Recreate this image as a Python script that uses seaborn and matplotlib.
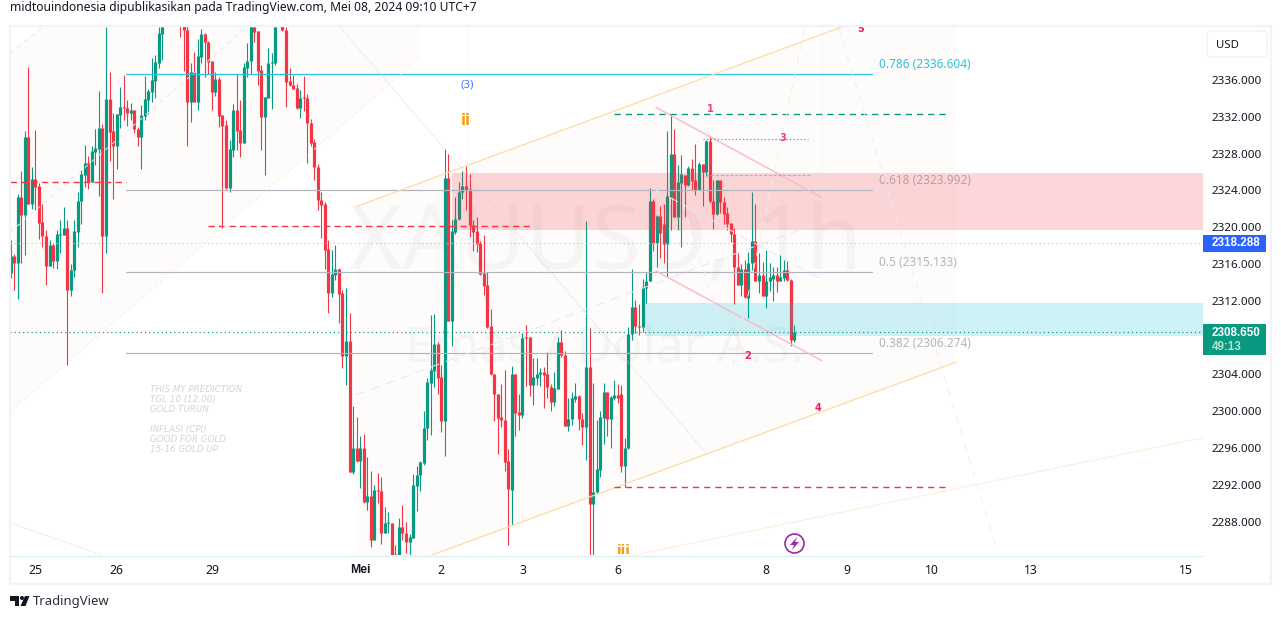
"""XAUUSD 1h TradingView snapshot with fib levels, channels and wave counts."""

import matplotlib.pyplot as plt
import pandas as pd
import seaborn as sns
from matplotlib.patches import Circle, FancyBboxPatch, Polygon, Rectangle

UP = "#089981"
DOWN = "#F23645"
GREY = "#B2B5BE"
CYAN = "#26C6DA"
ORANGE = "#FFDBA6"
PINK = "#F8BBD0"
INK = "#131722"
WAVE = "#EC407A"
FONT = ["Noto Sans", "DejaVu Sans"]
BOLD = ["Liberation Sans", "DejaVu Sans"]

highs = [
    2318.6, 2317.1, 2323.6, 2326.1, 2330.5, 2337.4, 2326.5, 2330.6, 2324.8, 2322.5,
    2319.7, 2318.6, 2318.3, 2319.7, 2320.8, 2322.2, 2320.8, 2316.0, 2320.8, 2323.8,
    2326.2, 2328.9, 2327.7, 2328.8, 2330.7, 2334.8, 2331.2, 2341.8, 2336.9, 2332.4,
    2332.3, 2335.2, 2336.5, 2333.8, 2333.5, 2332.7, 2330.9, 2333.3, 2336.4, 2335.0,
    2338.4, 2338.7, 2341.8, 2342.9, 2346.0, 2347.5, 2348.0, 2346.0, 2344.5, 2343.0,
    2342.0, 2337.8, 2339.0, 2340.5, 2341.5, 2341.1, 2340.2, 2338.1, 2336.9, 2336.3,
    2332.2, 2331.7, 2329.5, 2333.4, 2336.6, 2333.8, 2337.8, 2340.0, 2342.5, 2342.5,
    2341.3, 2337.6, 2334.2, 2339.5, 2338.9, 2342.5, 2345.0, 2343.5, 2341.8, 2337.3,
    2336.5, 2335.6, 2334.9, 2336.4, 2334.5, 2331.8, 2329.6, 2326.9, 2323.8, 2322.7,
    2318.6, 2317.5, 2318.1, 2315.6, 2313.2, 2313.4, 2310.7, 2300.6, 2299.4, 2297.3,
    2297.5, 2295.0, 2293.5, 2292.0, 2293.3, 2292.9, 2289.6, 2289.0, 2287.9, 2285.5,
    2288.4, 2289.8, 2288.0, 2286.7, 2293.2, 2294.0, 2294.6, 2300.0, 2303.6, 2310.5,
    2310.6, 2307.5, 2305.0, 2328.5, 2328.0, 2320.8, 2323.3, 2324.9, 2326.1, 2326.6,
    2325.8, 2320.8, 2321.1, 2318.5, 2319.2, 2315.1, 2311.1, 2304.0, 2301.9, 2303.0,
    2304.5, 2295.9, 2304.9, 2304.0, 2301.9, 2308.5, 2309.4, 2308.1, 2305.8, 2305.8,
    2304.7, 2304.8, 2306.4, 2303.0, 2304.3, 2308.1, 2308.8, 2306.5, 2301.4, 2302.1,
    2303.1, 2301.8, 2299.8, 2320.7, 2309.0, 2303.1, 2299.0, 2300.0, 2303.1, 2302.1,
    2301.6, 2303.4, 2303.0, 2302.9, 2297.1, 2309.2, 2315.5, 2312.1, 2311.7, 2314.4,
    2315.1, 2324.3, 2323.1, 2321.3, 2322.3, 2322.5, 2330.5, 2332.3, 2330.7, 2326.8,
    2327.9, 2325.7, 2326.7, 2327.4, 2329.0, 2327.1, 2326.9, 2329.5, 2329.9, 2325.1,
    2325.1, 2325.1, 2323.3, 2322.2, 2320.5, 2319.9, 2317.2, 2316.0, 2316.4, 2317.3,
    2323.8, 2322.5, 2317.2, 2316.2, 2317.5, 2316.1, 2315.7, 2315.7, 2317.0, 2316.4,
    2316.3, 2314.4, 2309.4,
]
lows = [
    2314.5, 2313.2, 2312.2, 2316.1, 2317.0, 2322.5, 2322.0, 2321.9, 2318.7, 2317.9,
    2313.7, 2315.8, 2315.6, 2315.5, 2317.2, 2319.1, 2305.0, 2312.5, 2314.6, 2317.9,
    2320.4, 2324.4, 2324.2, 2324.9, 2326.8, 2323.4, 2312.9, 2317.2, 2327.2, 2323.1,
    2326.3, 2330.8, 2331.7, 2331.0, 2331.7, 2330.2, 2328.8, 2326.3, 2331.7, 2332.3,
    2333.6, 2334.0, 2337.3, 2338.2, 2342.0, 2343.0, 2342.6, 2342.4, 2340.7, 2337.0,
    2328.8, 2331.4, 2333.6, 2332.7, 2337.9, 2336.3, 2336.7, 2332.7, 2334.3, 2330.9,
    2319.9, 2324.2, 2323.8, 2327.6, 2328.4, 2327.6, 2329.2, 2336.3, 2336.7, 2340.1,
    2335.5, 2328.4, 2325.7, 2334.0, 2332.9, 2337.6, 2342.0, 2341.3, 2333.1, 2335.4,
    2335.1, 2332.9, 2331.9, 2332.6, 2327.0, 2328.8, 2325.1, 2321.9, 2318.8, 2315.5,
    2310.7, 2312.4, 2314.3, 2309.6, 2304.7, 2302.9, 2293.4, 2293.2, 2294.5, 2291.6,
    2290.0, 2289.3, 2285.2, 2286.0, 2290.0, 2285.6, 2286.8, 2286.8, 2282.5, 2282.0,
    2281.0, 2286.0, 2284.6, 2284.2, 2286.2, 2289.1, 2291.3, 2294.2, 2296.9, 2297.4,
    2302.6, 2301.9, 2297.7, 2295.1, 2309.8, 2307.1, 2319.3, 2320.8, 2323.1, 2321.9,
    2318.9, 2317.4, 2317.3, 2314.8, 2312.6, 2309.0, 2303.9, 2298.9, 2295.3, 2298.3,
    2293.5, 2285.5, 2287.6, 2297.3, 2298.0, 2299.3, 2302.7, 2301.7, 2300.7, 2302.9,
    2302.7, 2300.4, 2301.4, 2300.0, 2300.6, 2302.4, 2305.9, 2298.4, 2297.9, 2298.5,
    2301.0, 2298.0, 2296.3, 2294.7, 2281.0, 2281.0, 2291.1, 2292.9, 2296.4, 2297.3,
    2296.0, 2301.2, 2300.9, 2293.4, 2291.8, 2295.9, 2307.7, 2308.5, 2308.3, 2308.6,
    2311.8, 2314.1, 2317.4, 2315.7, 2316.6, 2316.1, 2314.6, 2319.7, 2321.1, 2319.7,
    2317.8, 2321.1, 2324.5, 2324.0, 2323.5, 2324.0, 2322.3, 2325.6, 2322.6, 2319.8,
    2321.3, 2321.5, 2320.4, 2319.7, 2318.4, 2311.7, 2313.7, 2312.5, 2312.3, 2310.1,
    2315.3, 2314.2, 2312.8, 2312.5, 2311.2, 2313.1, 2312.0, 2313.0, 2314.1, 2314.2,
    2314.1, 2307.1, 2307.5,
]
opens = [
    2315.0, 2316.9, 2316.1, 2323.3, 2321.3, 2329.8, 2322.5, 2325.2, 2324.5, 2320.6,
    2319.0, 2315.8, 2318.1, 2316.3, 2319.1, 2319.1, 2319.9, 2313.2, 2315.3, 2319.5,
    2322.8, 2325.7, 2327.0, 2324.9, 2328.2, 2328.5, 2330.8, 2319.0, 2333.9, 2330.5,
    2328.8, 2332.2, 2333.1, 2333.0, 2332.4, 2332.7, 2330.7, 2329.8, 2332.1, 2333.8,
    2334.7, 2335.9, 2337.9, 2341.0, 2342.5, 2344.5, 2346.5, 2344.0, 2343.2, 2342.4,
    2341.4, 2333.6, 2336.9, 2333.6, 2338.5, 2341.0, 2340.1, 2338.1, 2334.7, 2336.1,
    2332.2, 2331.1, 2324.3, 2328.4, 2332.7, 2330.6, 2329.2, 2337.3, 2338.1, 2341.8,
    2341.3, 2337.1, 2332.0, 2334.0, 2337.8, 2337.8, 2342.2, 2342.5, 2341.4, 2335.9,
    2335.5, 2335.1, 2333.0, 2334.1, 2334.0, 2331.3, 2329.3, 2326.5, 2323.0, 2322.5,
    2317.6, 2312.8, 2314.8, 2315.5, 2312.8, 2306.0, 2307.6, 2293.4, 2296.0, 2294.6,
    2296.0, 2290.1, 2290.8, 2286.0, 2291.4, 2291.3, 2286.8, 2287.9, 2287.9, 2284.5,
    2284.0, 2287.4, 2286.8, 2285.8, 2286.2, 2291.9, 2293.1, 2294.4, 2298.2, 2303.1,
    2304.4, 2307.3, 2303.7, 2298.9, 2325.3, 2309.8, 2319.5, 2320.9, 2323.8, 2324.5,
    2324.2, 2320.2, 2319.6, 2318.3, 2315.0, 2313.7, 2309.3, 2304.0, 2301.9, 2299.4,
    2299.0, 2294.6, 2291.4, 2304.0, 2299.9, 2299.6, 2308.1, 2308.1, 2302.9, 2303.6,
    2304.0, 2304.3, 2304.0, 2302.6, 2301.0, 2302.4, 2307.5, 2306.1, 2298.4, 2299.2,
    2301.3, 2301.7, 2299.2, 2298.3, 2304.8, 2289.9, 2291.2, 2293.6, 2299.3, 2302.1,
    2299.2, 2301.4, 2301.8, 2301.9, 2294.0, 2296.0, 2308.4, 2311.3, 2309.3, 2309.2,
    2313.4, 2314.1, 2322.9, 2318.3, 2321.2, 2320.4, 2318.2, 2323.3, 2328.0, 2321.1,
    2324.8, 2325.7, 2324.6, 2326.4, 2325.1, 2324.0, 2326.9, 2326.0, 2329.4, 2322.9,
    2321.4, 2325.1, 2322.7, 2321.5, 2320.5, 2319.3, 2315.7, 2313.7, 2315.5, 2312.3,
    2316.1, 2318.5, 2314.2, 2314.8, 2312.5, 2314.1, 2314.4, 2314.8, 2314.1, 2314.5,
    2315.3, 2314.3, 2307.7,
]
closes = [
    2316.9, 2316.1, 2323.3, 2321.3, 2329.8, 2322.5, 2325.2, 2324.4, 2320.5, 2319.0,
    2315.8, 2318.1, 2316.3, 2319.3, 2319.3, 2319.9, 2313.2, 2315.3, 2319.6, 2322.9,
    2325.8, 2327.0, 2324.9, 2328.3, 2328.6, 2330.8, 2319.0, 2333.9, 2330.4, 2328.8,
    2332.3, 2333.1, 2333.0, 2332.4, 2332.7, 2330.7, 2329.8, 2332.2, 2333.9, 2334.8,
    2336.0, 2338.0, 2341.1, 2341.8, 2344.5, 2346.5, 2344.0, 2343.2, 2342.4, 2341.4,
    2333.6, 2336.9, 2333.6, 2338.6, 2341.0, 2340.1, 2338.0, 2334.7, 2336.1, 2332.1,
    2331.0, 2324.3, 2328.5, 2332.7, 2330.5, 2329.2, 2337.4, 2338.1, 2341.8, 2341.2,
    2337.0, 2332.0, 2334.1, 2337.9, 2338.0, 2341.8, 2344.0, 2341.4, 2335.8, 2335.5,
    2335.0, 2333.0, 2334.0, 2334.0, 2331.3, 2329.2, 2326.5, 2323.0, 2322.4, 2317.5,
    2312.8, 2314.9, 2315.5, 2312.7, 2306.0, 2307.6, 2293.4, 2296.0, 2294.6, 2296.0,
    2290.1, 2290.8, 2286.0, 2291.4, 2291.3, 2286.8, 2287.9, 2288.0, 2283.5, 2283.0,
    2287.4, 2286.8, 2285.8, 2286.3, 2292.0, 2293.1, 2294.5, 2298.2, 2303.2, 2304.5,
    2307.3, 2303.6, 2298.9, 2325.3, 2309.8, 2319.6, 2320.9, 2323.8, 2324.5, 2324.0,
    2320.2, 2319.5, 2318.2, 2314.9, 2313.6, 2309.2, 2304.0, 2301.9, 2299.3, 2299.0,
    2294.5, 2291.5, 2304.0, 2299.8, 2299.6, 2308.0, 2308.0, 2302.9, 2303.7, 2304.0,
    2304.3, 2303.9, 2302.6, 2301.0, 2302.5, 2307.5, 2306.1, 2298.4, 2299.2, 2301.4,
    2301.7, 2299.2, 2298.3, 2304.8, 2289.9, 2291.2, 2293.7, 2299.4, 2302.1, 2299.2,
    2301.5, 2301.8, 2301.4, 2294.0, 2296.0, 2308.4, 2311.3, 2309.3, 2309.2, 2313.5,
    2314.2, 2322.9, 2318.3, 2321.2, 2319.4, 2318.2, 2323.4, 2328.0, 2321.1, 2324.9,
    2325.8, 2324.6, 2326.4, 2325.0, 2324.0, 2326.9, 2326.0, 2329.4, 2322.8, 2321.4,
    2325.1, 2322.7, 2321.4, 2320.4, 2319.3, 2315.7, 2313.7, 2315.5, 2312.4, 2316.1,
    2318.5, 2314.2, 2314.8, 2312.5, 2314.2, 2314.6, 2314.8, 2314.1, 2314.6, 2315.3,
    2314.3, 2307.7, 2308.6,
]

date_ticks = [7, 30, 57, 99, 122, 145, 172, 214, 237, 261, 289, 333]
date_labels = ["25", "26", "29", "Mei", "2", "3", "6", "8", "9", "10", "13", "15"]
price_ticks = [2336, 2332, 2328, 2324, 2320, 2316, 2312, 2304, 2300, 2296, 2292, 2288]

fib_ratios = ["0.786", "0.618", "0.5", "0.382"]
fib_prices = [2336.604, 2323.992, 2315.133, 2306.274]
fib_colors = [CYAN, GREY, GREY, GREY]
fib_bars = [32.7, 244.0]

last_price = 2308.650
countdown = "49:13"
blue_price = 2318.288

# zones: first bar, last bar, bottom price, top price
supply_zone = (125.0, 337.8, 2319.73, 2325.89)
demand_zone = (179.7, 337.8, 2308.2, 2311.76)

# channel fills, bars then the two price edges
orange_fill = ([97.8, 267.8], [2322.23, 2346.36], [2281.33, 2305.32])
left_fill = ([-0.2, 115.95], [2338.93, 2377.4], [2299.91, 2338.39])

# bar0, bar1, price0, price1, color, px width, dash pattern
segments = [
    (97.8, 267.8, 2322.23, 2346.36, ORANGE, 1.3, "-"),
    (97.8, 267.8, 2281.33, 2305.32, ORANGE, 1.3, "-"),
    (172.6, 337.8, 2284.04, 2297.12, "#FFEFDC", 1.2, "-"),
    (182.8, 229.9, 2333.03, 2323.21, PINK, 1.5, "-"),
    (182.8, 229.8, 2315.24, 2305.49, PINK, 1.5, "-"),
    (-0.2, 32.7, 2324.88, 2324.88, DOWN, 1.4, (0, (4.5, 3))),
    (56.0, 148.0, 2320.10, 2320.10, DOWN, 1.4, (0, (4.5, 3))),
    (171.0, 265.0, 2291.8, 2291.8, DOWN, 1.4, (0, (4.5, 3.5))),
    (171.0, 265.0, 2332.27, 2332.27, UP, 1.4, (0, (4.5, 3.5))),
    (-0.2, 337.8, last_price, last_price, UP, 1.2, (0, (1, 2.5))),
    (-0.2, 337.8, blue_price, blue_price, "#BFC7F2", 1.2, (0, (1, 2.5))),
    (196.0, 226.0, 2329.55, 2329.55, "#5C7CE8", 1.2, (0, (1, 2))),
    (197.0, 227.0, 2325.64, 2325.64, "#A5AEEA", 1.2, (0, (2.5, 1.5))),
    (93.3, 197.5, 2341.76, 2295.24, "#D4D6DA", 1, (0, (1, 1.5))),
    (-0.2, 25.9, 2287.85, 2284.37, "#D4D6DA", 1, (0, (1, 1.5))),
    (129.2, 129.2, 2341.76, 2326.76, "#E6E8EE", 1, (0, (1, 3))),
    (229.9, 229.9, 2341.76, 2322.74, "#E0E3FA", 1, (0, (1, 3))),
    (234.6, 279.4, 2341.65, 2284.9, "#EEEEEE", 1, (0, (7, 7))),
    (224.9, 204.6, 2341.5, 2304.8, "#F1EEE8", 1, (0, (7, 7))),
    (190.4, 200.9, 2322.63, 2309.59, "#F1EEE8", 1, (0, (7, 7))),
    (97.8, 257.6, 2301.76, 2324.59, "#E2E6FB", 1, (0, (9, 7))),
    (182.8, 230.1, 2324.04, 2314.26, "#E2E6FB", 1, (0, (9, 7))),
    (-0.2, 116.0, 2299.91, 2338.39, "#FBEDE8", 1, (0, (3, 3))),
    (-0.2, 67.0, 2319.44, 2341.76, "#E2E6FB", 1, (0, (4, 5))),
    (-0.2, 9.2, 2338.93, 2341.76, "#E2E6FB", 1, (0, (4, 5))),
]

wave_labels = ["1", "2", "3", "4", "5", "(3)", "ii", "iii"]
wave_bars = [198.1, 208.9, 218.8, 228.7, 240.9, 129.3, 129.0, 173.7]
wave_prices = [2332.85, 2306.0, 2329.7, 2300.35, 2341.5, 2335.46, 2331.65, 2284.9]
wave_colors = [WAVE, "#E91E63", WAVE, "#E91E63", "#E91E63", "#4C7BF3", "#F59D0E", "#F59D0E"]
wave_sizes = [7, 7, 7, 7, 7, 8.2, 10.5, 9.5]

note_lines = [
    "THIS MY PREDICTION :", "TGL 10 (12.00)", "GOLD TURUN.", "",
    "INFLASI (CPI)", "GOOD FOR GOLD", "15-16 GOLD UP",
]
header = "midtouindonesia dipublikasikan pada TradingView.com, Mei 08, 2024 09:10 UTC+7"

sns.set_theme(style="white")
plt.rcParams["font.family"] = FONT


def draw_candles(ax: plt.Axes) -> None:
    df = pd.DataFrame({"open": opens, "high": highs, "low": lows, "close": closes})
    df["bar"] = df.index
    df["direction"] = ["up" if c >= o else "down" for o, c in zip(df["open"], df["close"])]
    palette = {"up": UP, "down": DOWN}

    wicks = df.melt(id_vars=["bar", "direction"], value_vars=["high", "low"], value_name="price")
    bodies = df.melt(id_vars=["bar", "direction"], value_vars=["open", "close"], value_name="price")
    for frame, width in ((wicks, 0.8), (bodies, 2.3)):
        sns.lineplot(
            data=frame,
            x="bar",
            y="price",
            hue="direction",
            units="bar",
            estimator=None,
            palette=palette,
            linewidth=width,
            solid_capstyle="butt",
            sort=False,
            legend=False,
            zorder=2,
            ax=ax,
        )


def draw_segment(ax, bar0, bar1, p0, p1, color, width, style, zorder=3) -> None:
    sns.lineplot(
        x=[bar0, bar1],
        y=[p0, p1],
        estimator=None,
        sort=False,
        color=color,
        linewidth=width * 0.72,
        linestyle=style,
        legend=False,
        zorder=zorder,
        ax=ax,
    )


def draw_chart(ax: plt.Axes) -> None:
    for bars, edge_a, edge_b in (orange_fill, left_fill):
        ax.fill_between(bars, edge_a, edge_b, color="#FEFCFA", linewidth=0, zorder=0.5)

    ax.text(0.4996, 0.585, "XAUUSD, 1h", transform=ax.transAxes, ha="center", va="center",
            fontsize=65, color=INK, alpha=0.03, zorder=1)
    ax.text(0.4985, 0.392, "Emas / Dolar A.S.", transform=ax.transAxes, ha="center", va="center",
            fontsize=36, color=INK, alpha=0.03, zorder=1)

    draw_candles(ax)

    for (b0, b1, lo, hi), color in ((supply_zone, DOWN), (demand_zone, "#00BCD4")):
        ax.fill_between([b0, b1], lo, hi, color=color, alpha=0.2, linewidth=0, zorder=2.5)

    for ratio, price, color in zip(fib_ratios, fib_prices, fib_colors):
        draw_segment(ax, fib_bars[0], fib_bars[1], price, price, color, 1.2, "-")
        ax.text(246.0, price + 1.05, f"{ratio} ({price:.3f})", color=color, fontsize=8.5,
                ha="left", va="center", zorder=2.2)

    for b0, b1, p0, p1, color, width, style in segments:
        draw_segment(ax, b0, b1, p0, p1, color, width, style)

    for label, bar, price, color, size in zip(wave_labels, wave_bars, wave_prices, wave_colors, wave_sizes):
        family = FONT if label == "(3)" else ["DejaVu Sans"]
        weight = "normal" if label == "(3)" else "bold"
        ax.text(bar, price, label, color=color, fontsize=size, fontweight=weight, family=family,
                ha="center", va="center", clip_on=True, zorder=4)

    ax.set_xlim(-0.2, 337.8)
    ax.set_ylim(2284.37, 2341.76)
    ax.set_xlabel("")
    ax.set_ylabel("")
    ax.set_xticks(date_ticks)
    ax.set_xticklabels(date_labels, fontsize=8.8, color=INK)
    for tick in ax.get_xticklabels():
        if tick.get_text() == "Mei":
            tick.set_fontweight("bold")
            tick.set_family(BOLD)
    ax.set_yticks(price_ticks)
    ax.set_yticklabels([f"{p:.3f}" for p in price_ticks], fontsize=8.4, color=INK)
    ax.yaxis.tick_right()
    ax.tick_params(axis="x", length=0, pad=6.7)
    ax.tick_params(axis="y", length=0, pad=6.2)
    for spine in ax.spines.values():
        spine.set_visible(False)


def draw_chrome(over: plt.Axes) -> None:
    """Frame, header, price tags and logo, in image pixels."""
    over.set_xlim(0, 1281)
    over.set_ylim(619, 0)
    over.axis("off")
    over.patch.set_alpha(0)

    over.add_patch(Rectangle((9.5, 25.5), 1261.5, 558.5, fill=False, edgecolor="#F0F3FA", linewidth=1.6))
    over.plot([10, 1203], [555.5, 555.5], color="#DCF0F2", linewidth=1)
    over.text(10, 8, header, fontsize=8.7, color=INK, ha="left", va="center")

    over.add_patch(FancyBboxPatch((1209, 33), 56, 22, boxstyle="round,pad=2,rounding_size=4",
                                  facecolor="white", edgecolor="#F0F3FA", linewidth=1.2))
    over.text(1216, 45, "USD", fontsize=8.2, color=INK, ha="left", va="center")

    over.add_patch(Rectangle((1203, 235), 63, 17, facecolor="#2962FF", edgecolor="none"))
    over.text(1212, 243.5, f"{blue_price:.3f}", fontsize=8.4, color="white", fontweight="bold",
              family=BOLD, ha="left", va="center")
    over.add_patch(Rectangle((1203, 324), 63, 31, facecolor=UP, edgecolor="none"))
    over.text(1212, 332.7, f"{last_price:.3f}", fontsize=8.4, color="white", fontweight="bold",
              family=BOLD, ha="left", va="center")
    over.text(1212, 346.7, countdown, fontsize=8.4, color="#B5E3D6", fontweight="bold",
              family=BOLD, ha="left", va="center")

    for i, line in enumerate(note_lines):
        over.text(150, 389.5 + i * 10, line, fontsize=6.3, color="#D1D4DC", style="italic",
                  family=["DejaVu Sans"], ha="left", va="center")

    over.add_patch(Circle((794.5, 543.5), 9.5, fill=False, edgecolor="#9C27B0", linewidth=1.2))
    over.add_patch(Polygon([(797, 537), (790, 545), (794, 545), (792, 550), (799, 542), (795, 542)],
                           facecolor="#9C27B0", edgecolor="none"))

    over.add_patch(Polygon([(10, 596), (19, 596), (19, 606), (14.5, 606), (14.5, 600.5), (10, 600.5)],
                           facecolor=INK, edgecolor="none"))
    over.add_patch(Circle((22, 598), 2, facecolor=INK, edgecolor="none"))
    over.add_patch(Polygon([(25, 596), (29.5, 596), (25.5, 606), (20.5, 606)],
                           facecolor=INK, edgecolor="none"))
    over.text(33, 601, "TradingView", fontsize=9.4, color="#2A2E39", ha="left", va="center")


fig = plt.figure(figsize=(12.81, 6.19), dpi=100, facecolor="white")
ax = fig.add_axes([10 / 1281, 64 / 619, 1193 / 1281, 528 / 619])
draw_chart(ax)
over = fig.add_axes([0, 0, 1, 1], zorder=5)
draw_chrome(over)
fig.savefig("out.png", dpi=100)
plt.close(fig)
